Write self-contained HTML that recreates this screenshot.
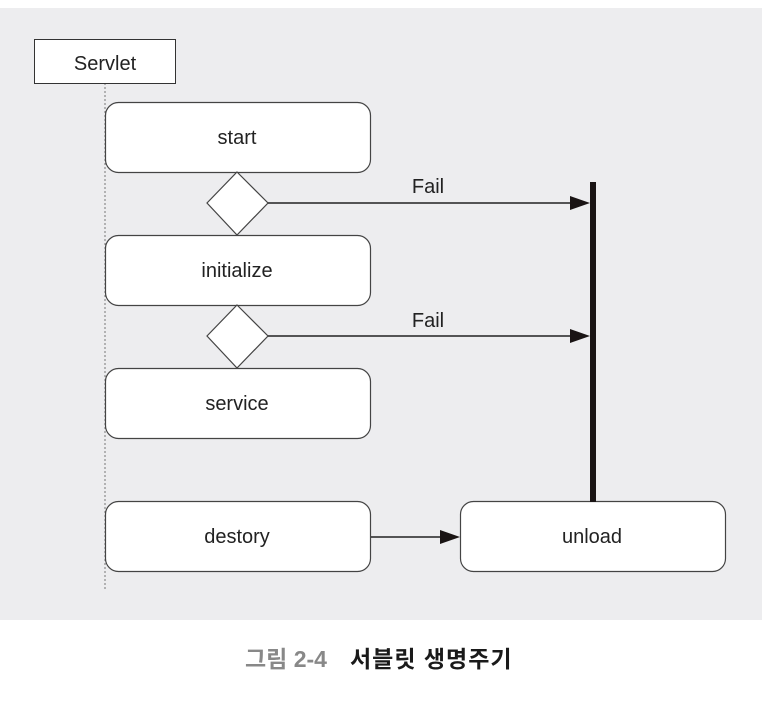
<!DOCTYPE html>
<html><head><meta charset="utf-8"><style>
body{margin:0;background:#fff;width:782px;height:713px;overflow:hidden}
svg{display:block}
text{font-family:"Liberation Sans","Noto Sans CJK KR",sans-serif}
</style></head><body>
<svg width="782" height="713" viewBox="0 0 782 713">
<rect x="0" y="8" width="762" height="612" fill="#ededef"/>
<line x1="105" y1="83" x2="105" y2="590" stroke="#777" stroke-width="1" stroke-dasharray="2,2"/>
<rect x="34.5" y="39.5" width="141" height="44" fill="#fff" stroke="#333"/>
<text x="105" y="70" font-size="20" text-anchor="middle" fill="#222">Servlet</text>
<g fill="#fff" stroke="#444" stroke-width="1.2">
<rect x="105.5" y="102.5" width="265" height="70" rx="13"/>
<rect x="105.5" y="235.5" width="265" height="70" rx="13"/>
<rect x="105.5" y="368.5" width="265" height="70" rx="13"/>
<rect x="105.5" y="501.5" width="265" height="70" rx="13"/>
<rect x="460.5" y="501.5" width="265" height="70" rx="13"/>
<polygon points="237,172 268,203 237,235 207,203"/>
<polygon points="237,305 268,336 237,368 207,336"/>
</g>
<g font-size="20" text-anchor="middle" fill="#222">
<text x="237" y="144">start</text>
<text x="237" y="277">initialize</text>
<text x="237" y="410">service</text>
<text x="237" y="543">destory</text>
<text x="592" y="543">unload</text>
<text x="428" y="193">Fail</text>
<text x="428" y="327">Fail</text>
</g>
<g stroke="#222" stroke-width="1.5">
<line x1="268" y1="203" x2="572" y2="203"/>
<line x1="268" y1="336" x2="572" y2="336"/>
<line x1="371" y1="537" x2="442" y2="537"/>
</g>
<g fill="#1a1414">
<polygon points="590,203 570,196 570,210"/>
<polygon points="590,336 570,329 570,343"/>
<polygon points="460,537 440,530 440,544"/>
<rect x="590" y="182" width="6" height="320"/>
</g>
<text x="245" y="667" font-size="23" fill="#888" font-weight="bold">그림 2-4</text>
<text x="350" y="667" font-size="23" fill="#1a1a1a" font-weight="bold" letter-spacing="1">서블릿 생명주기</text>
</svg>
</body></html>
